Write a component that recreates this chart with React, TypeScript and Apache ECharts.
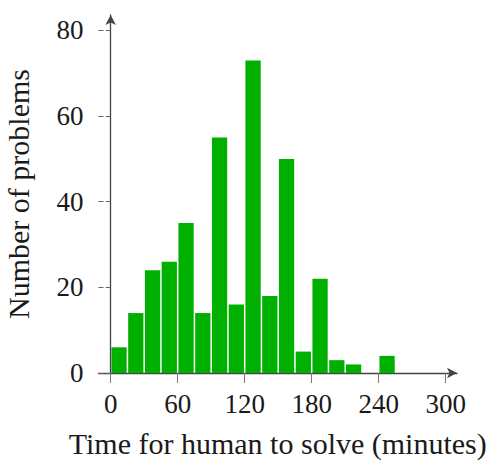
import React, { useEffect, useRef } from "react";
import * as echarts from "echarts";

const binStarts = [0, 15, 30, 45, 60, 75, 90, 105, 120, 135, 150, 165, 180, 195, 210, 225, 240];
const counts = [6, 14, 24, 26, 35, 14, 55, 16, 73, 18, 50, 5, 22, 3, 2, 0, 4];
const binWidth = 15;
const xTicks = [0, 60, 120, 180, 240, 300];
const yTicks = [0, 20, 40, 60, 80];

const FONT = "'Liberation Serif', 'Times New Roman', serif";

export default function App() {
  const ref = useRef<HTMLDivElement>(null);
  useEffect(() => {
    if (!ref.current) return;
    const chart = echarts.init(ref.current, undefined, { renderer: "svg" });
    const data = binStarts.map((s, i) => [s, counts[i]]);
    chart.setOption({
      animation: false,
      backgroundColor: "#ffffff",
      grid: { left: 98.5, right: 35, top: 15, bottom: 90, containLabel: false, outerBoundsMode: "none" },
      xAxis: {
        type: "value",
        min: -10.9,
        max: 310.1,
        name: "Time for human to solve (minutes)",
        nameLocation: "middle",
        nameGap: 55,
        nameTextStyle: { fontFamily: FONT, fontSize: 30, color: "#1a1a1a" },
        splitLine: { show: false },
        axisLine: {
          show: true,
          onZero: false,
          symbol: ["none", "arrow"],
          symbolSize: [8, 10],
          lineStyle: { color: "#444", width: 1.3 },
        },
        axisTick: { show: true, length: 10, customValues: xTicks, lineStyle: { color: "#777", width: 1 } },
        axisLabel: {
          customValues: xTicks,
          margin: 17,
          fontFamily: FONT,
          fontSize: 27,
          color: "#1a1a1a",
        },
      },
      yAxis: [
        {
          type: "value",
          min: 0,
          max: 83.6,
          name: "Number of problems",
          nameLocation: "middle",
          nameGap: 65,
          nameTextStyle: { fontFamily: FONT, fontSize: 30, color: "#1a1a1a" },
          splitLine: { show: false },
          axisLine: {
            show: true,
            symbol: ["none", "arrow"],
            symbolSize: [8, 10],
            lineStyle: { color: "#444", width: 1.3 },
          },
          axisTick: { show: true, length: 5, customValues: yTicks, lineStyle: { color: "#666", width: 1 } },
          axisLabel: {
            customValues: yTicks,
            margin: 15,
            fontFamily: FONT,
            fontSize: 27,
            color: "#1a1a1a",
          },
        },
        {
          type: "value",
          min: 0,
          max: 83.6,
          position: "left",
          splitLine: { show: false },
          axisLine: { show: false },
          axisTick: { show: true, inside: true, length: 5, customValues: yTicks, lineStyle: { color: "#666", width: 1 } },
          axisLabel: { show: false },
        },
      ],
      series: [
        {
          type: "custom",
          data,
          encode: { x: 0, y: 1 },
          renderItem: (params: any, api: any) => {
            const x0 = api.value(0);
            const v = api.value(1);
            const pTop = api.coord([x0, v]);
            const pBot = api.coord([x0 + binWidth, 0]);
            return {
              type: "rect",
              shape: {
                x: pTop[0] + 0.75,
                y: pTop[1],
                width: pBot[0] - pTop[0] - 1.5,
                height: pBot[1] - pTop[1],
              },
              style: { fill: "#00b000" },
            };
          },
        },
      ],
    });
    return () => chart.dispose();
  }, []);
  return (
    <div
      ref={ref}
      style={{ position: "fixed", left: 0, top: 0, width: 492, height: 463 }}
    />
  );
}
